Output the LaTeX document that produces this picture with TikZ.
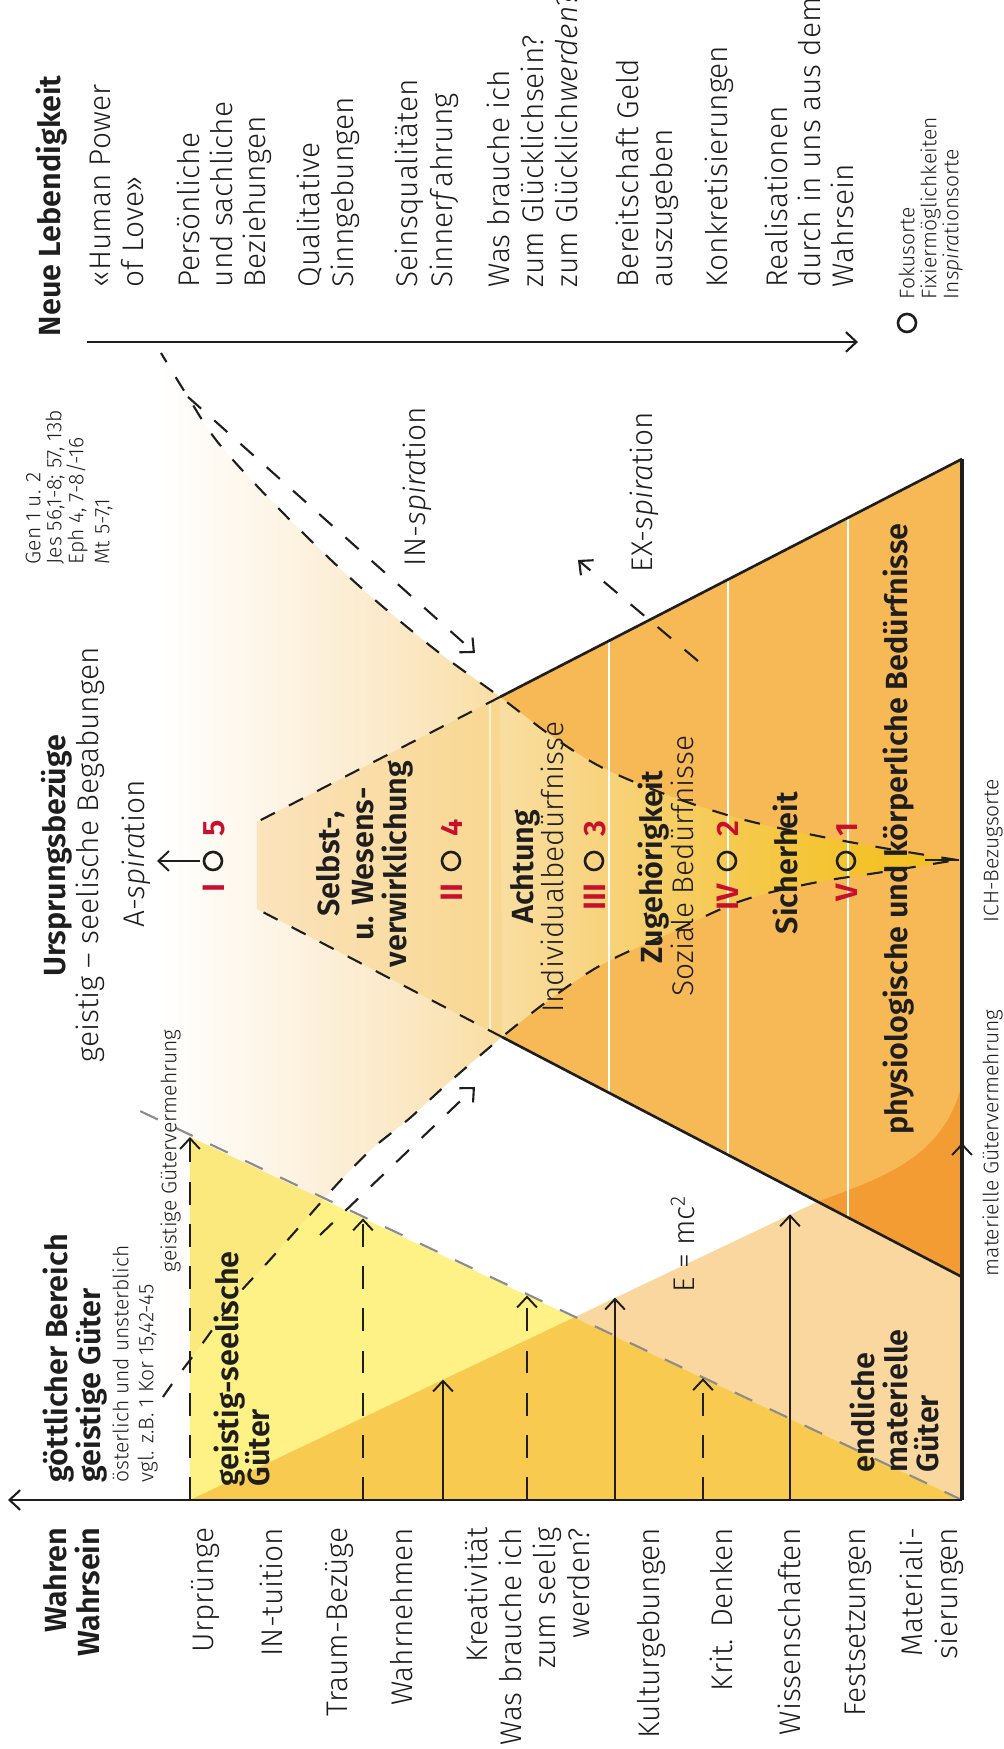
\documentclass[tikz,border=0pt]{standalone}
\usepackage{fontspec}
\setmainfont{Fira Sans}[UprightFont=* Light, ItalicFont=* Light Italic, BoldFont=* SemiBold, BoldItalicFont=* SemiBold Italic]
\usetikzlibrary{arrows.meta}

% colours
\definecolor{ink}{HTML}{1E1E1E}
\definecolor{numred}{HTML}{C8102E}
\definecolor{gelb}{HTML}{FEF185}
\definecolor{ocker}{HTML}{F8CB50}
\definecolor{pfirsich}{HTML}{FAD79E}
\definecolor{pyramid}{HTML}{F7B955}
\definecolor{dunkelor}{HTML}{F39C34}
\definecolor{ovl}{HTML}{FBE97E}
\definecolor{grau}{HTML}{8C8C8C}
\definecolor{trapTop}{HTML}{FBE3BD}
\definecolor{trapBot}{HTML}{F8D78F}
\definecolor{fsA}{HTML}{F3C01C}
\definecolor{fsB}{HTML}{F4C32C}
\definecolor{fsC}{HTML}{F6CA52}
\definecolor{fsD}{HTML}{F8D37C}
\definecolor{fsE}{HTML}{F9DEA2}
\definecolor{fsF}{HTML}{FBE8C6}
\definecolor{fsG}{HTML}{FDF4E4}

\pgfdeclareverticalshading{funnelshade}{100bp}{color(0bp)=(fsA); color(25bp)=(fsA); color(31.5bp)=(fsB); color(39.7bp)=(fsC); color(47.2bp)=(fsD); color(53.6bp)=(fsE); color(59.8bp)=(fsF); color(67.3bp)=(fsG); color(75bp)=(white); color(100bp)=(white)}

% shapes used more than once
\newcommand\peachpath{(249,813) -- (547,186) .. controls (572,120) and (590,60) .. (665,41) -- (249,41) -- cycle}
\newcommand\gelbpath{(249,813) -- (612,813) -- (249,41) -- cycle}
\newcommand\pyrpath{(472,41) -- (712,501) -- (1052,503) -- (1290,41) -- cycle}
\newcommand\funnelleft{plot[smooth, tension=.55] coordinates {(352,840) (369,828) (409,798) (452,767) (487,735) (524,702) (569,662) (601,630) (631,593) (664,557) (712,501) (752,450) (785,400) (816,333) (848,262) (866,190) (877,120) (889,46)}}
\newcommand\funnelright{plot[smooth, tension=.55] coordinates {(889,46) (901,120) (914,190) (930,262) (953,333) (981,400) (1012,450) (1052,503) (1101,570) (1164,645) (1234,718) (1304,783) (1352,815) (1396,842)}}
\newcommand\funnelpath{plot[smooth, tension=.55] coordinates {(352,840) (369,828) (409,798) (452,767) (487,735) (524,702) (569,662) (601,630) (631,593) (664,557) (712,501) (752,450) (785,400) (816,333) (848,262) (866,190) (877,120) (889,46)} -- plot[smooth, tension=.55] coordinates {(889,46) (901,120) (914,190) (930,262) (953,333) (981,400) (1012,450) (1052,503) (1101,570) (1164,645) (1234,718) (1304,783) (1352,815) (1396,842)} -- cycle}

\begin{document}
\begin{tikzpicture}[x=0.01cm, y=0.01cm, >={Straight Barb[length=3pt,width=5.6pt]},
    lbl/.style={font=\fontsize{8.5}{10}\selectfont, text=ink, inner sep=0pt, text height=6.2pt, text depth=1.8pt},
    hdr/.style={lbl, font=\fontsize{8.7}{10}\selectfont\bfseries},
    klein/.style={font=\fontsize{6}{7}\selectfont, text=ink, inner sep=0pt, text height=4.4pt, text depth=1.3pt},
    num/.style={font=\fontsize{8.8}{10}\selectfont\bfseries, text=numred, inner sep=0pt, text height=6.3pt, text depth=0pt},
    focus/.style={circle, draw=ink, line width=0.75pt, minimum size=0.18cm, inner sep=0pt},
    funnel line/.style={draw=ink, line width=0.6pt, dash pattern=on 4.5pt off 5pt},
    guide/.style={ink, line width=0.55pt},
    guide dash/.style={guide, dash pattern=on 6.5pt off 5.5pt}]
\begin{scope}[rotate=90, transform shape]
\useasboundingbox (0,0) rectangle (1749,1003);
\fill[white] (0,0) rectangle (1749,1003);

% Points
\coordinate (bL) at (249,41);
\coordinate (aT) at (249,995);
\coordinate (tL) at (472,41);
\coordinate (tR) at (1290,41);
\coordinate (C) at (1052,503);
\coordinate (D) at (712,501);
\coordinate (tpL) at (840,746);
\coordinate (tpR) at (927,746);
\coordinate (yTop) at (249,813);
\coordinate (yTip) at (612,813);
\coordinate (gEnd) at (646,880);

% Areas
\fill[pfirsich] \peachpath;
\fill[gelb] \gelbpath;
\begin{scope}
  \clip \gelbpath;
  \fill[ocker] \peachpath;
\end{scope}
\fill[pyramid] \pyrpath;
\begin{scope}
  \clip \pyrpath;
  \fill[dunkelor] \peachpath;
\end{scope}
\shade[shading=funnelshade, shading angle=90] \funnelpath;
\begin{scope}
  \clip \gelbpath;
  \fill[ovl] \funnelpath;
\end{scope}
\shade[top color=trapTop, bottom color=trapBot, shading angle=90] (D) -- (C) -- (tpR) -- (tpL) -- cycle;

% Level separators
\draw[white, line width=0.7pt] (531.5,155) -- (1231.3,155);
\draw[white, line width=0.7pt] (594.1,275) -- (1169.5,275);
\draw[white, line width=0.7pt] (656.2,394) -- (1108.2,394);
\draw[white, opacity=0.6, line width=0.6pt] (718.3,513) -- (1046.8,513);

% Outlines
\draw[ink, line width=0.75pt] (tL) -- (D);
\draw[ink, line width=0.75pt] (tR) -- (C);
\draw[ink, line width=0.6pt, dash pattern=on 4.5pt off 4.5pt] (D) -- (tpL);
\draw[ink, line width=0.6pt, dash pattern=on 4.5pt off 4.5pt] (C) -- (tpR);
\draw[funnel line] \funnelleft;
\draw[funnel line] \funnelright;
\draw[grau, line width=0.6pt, dash pattern=on 5.5pt off 5.5pt] (bL) -- (gEnd);
\draw[ink, line width=0.9pt] (bL) -- (tR);

% Axes
\draw[->, guide, line width=0.6pt] (bL) -- (aT);
\draw[->, guide, line width=0.6pt] (1407,916) -- (1407,145);

% Spiration arrows
\draw[->, ink, line width=0.6pt, dash pattern=on 5pt off 5pt] (1352,815) -- (1096,528);
\draw[->, ink, line width=0.6pt, dash pattern=on 5pt off 5pt] (514,683) -- (662,528);
\draw[->, ink, line width=0.6pt, dash pattern=on 5pt off 5pt] (1088,305) -- (1189,425);
\draw[->, guide] (888,803) -- (888,846);
\draw[ink, line width=0.8pt] (889,44) -- (889,78);
\draw[->, guide] (bL) -- (606,41);

% Goods arrows
\draw[->, guide dash] (yTop) -- (yTip);
\draw[->, guide dash] (249,640) -- (530.6,640);
\draw[->, guide dash] (249,476) -- (453.5,476);
\draw[->, guide dash] (249,300) -- (370.8,300);
\draw[->, guide] (249,560) -- (369.5,560);
\draw[->, guide] (249,388) -- (451.4,388);
\draw[->, guide] (249,213) -- (534.7,213);

% Left column
\node[hdr, anchor=east] (wahren) at (222,944) {Wahren};
\node[hdr, anchor=east] (wahrsein) at (222,911) {Wahrsein};
\node[lbl, anchor=east] (urspr) at (222,797) {Urprünge};
\node[lbl, anchor=east] (intu) at (222,728) {IN-tuition};
\node[lbl, anchor=east] (traum) at (222,663) {Traum-Bezüge};
\node[lbl, anchor=east] (wahrn) at (222,598) {Wahrnehmen};
\node[lbl, anchor=east] (kreat) at (222,523) {Kreativität};
\node[lbl, anchor=east] (seelA) at (222,489) {Was brauche ich};
\node[lbl, anchor=east] (seelB) at (222,455) {zum seelig};
\node[lbl, anchor=east] (seelC) at (222,421) {werden?};
\node[lbl, anchor=east] (kultur) at (222,351) {Kulturgebungen};
\node[lbl, anchor=east] (krit) at (222,278) {Krit. Denken};
\node[lbl, anchor=east] (wiss) at (222,210) {Wissenschaften};
\node[lbl, anchor=east] (fest) at (222,145) {Festsetzungen};
\node[lbl, anchor=east] (matA) at (222,88) {Materiali-};
\node[lbl, anchor=east] (matB) at (222,53) {sierungen};

% Goods texts
\node[hdr, anchor=west] (goettl) at (266,943) {göttlicher Bereich};
\node[hdr, anchor=west] (geistg) at (266,910) {geistige Güter};
\node[klein, anchor=west] (oesterl) at (266,880) {österlich und unsterblich};
\node[klein, anchor=west] (kor) at (266,855) {vgl. z.B. 1 Kor 15,42-45};
\node[klein, anchor=west] (gverm) at (476,832) {geistige Gütervermehrung};
\node[hdr, anchor=west] (gsA) at (262,772) {geistig-seelische};
\node[hdr, anchor=west] (gsB) at (262,741) {Güter};
\node[lbl, anchor=west] (emc) at (456,316) {E = mc\textsuperscript{2}};
\node[hdr, anchor=west] (endA) at (276,136) {endliche};
\node[hdr, anchor=west] (endB) at (276,103) {materielle};
\node[hdr, anchor=west] (endC) at (276,72) {Güter};
\node[klein, anchor=west] (mverm) at (472,10) {materielle Gütervermehrung};
\node[klein, anchor=west] (ichbez) at (826,10) {ICH-Bezugsorte};

% Centre
\node[hdr] (ursprb) at (893,945) {Ursprungsbezüge};
\node[lbl] (begab) at (894,912) {geistig – seelische Begabungen};
\node[lbl] (aspir) at (895,866) {A-\textit{spira}tion};
\node[focus] (fo5) at (888,790) {};
\node[num, anchor=east] (r5) at (866,790) {I};
\node[num, anchor=west] (n5) at (912,790) {5};
\node[focus] (fo4) at (888,552) {};
\node[num, anchor=east] (r4) at (866,552) {II};
\node[num, anchor=west] (n4) at (912,552) {4};
\node[focus] (fo3) at (888,409) {};
\node[num, anchor=east] (r3) at (866,409) {III};
\node[num, anchor=west] (n3) at (912,409) {3};
\node[focus] (fo2) at (888,276) {};
\node[num, anchor=east] (r2) at (866,276) {IV};
\node[num, anchor=west] (n2) at (912,276) {2};
\node[focus] (fo1) at (888,157) {};
\node[num, anchor=east] (r1) at (866,157) {V};
\node[num, anchor=west] (n1) at (912,157) {1};
\node[hdr] (selbA) at (885,671) {Selbst-,};
\node[hdr] (selbB) at (885,637) {u. Wesens-};
\node[hdr] (selbC) at (885,604) {verwirklichung};
\node[hdr] (acht) at (882,477) {Achtung};
\node[lbl] (indiv) at (882,447) {Individualbedürfnisse};
\node[hdr] (zugeh) at (882,348) {Zugehörigkeit};
\node[lbl] (sozial) at (883,317) {Soziale Bedürfnisse};
\node[hdr] (sicher) at (886,213) {Sicherheit};
\node[hdr] (physio) at (920,103) {physiologische und körperliche Bedürfnisse};

% Right side
\node[klein, anchor=west] (genA) at (1184,968) {Gen 1 u. 2};
\node[klein, anchor=west] (genB) at (1184,947) {Jes 56,1-8; 57, 13b};
\node[klein, anchor=west] (genC) at (1184,925) {Eph 4, 7-8/-16};
\node[klein, anchor=west] (genD) at (1184,899) {Mt 5-7,1};
\node[lbl, anchor=west] (inspir) at (1182,585) {IN-\textit{spira}tion};
\node[lbl, anchor=west] (exspir) at (1176,358) {EX-\textit{spira}tion};
\node[hdr, anchor=west] (neue) at (1412,950) {Neue Lebendigkeit};
\node[lbl, anchor=west] (rA) at (1461,900) {«Human Power};
\node[lbl, anchor=west] (rB) at (1461,867) {of Love»};
\node[lbl, anchor=west] (rC) at (1461,811) {Persönliche};
\node[lbl, anchor=west] (rD) at (1461,778) {und sachliche};
\node[lbl, anchor=west] (rE) at (1461,745) {Beziehungen};
\node[lbl, anchor=west] (rF) at (1461,691) {Qualitative};
\node[lbl, anchor=west] (rG) at (1461,657) {Sinngebungen};
\node[lbl, anchor=west] (rH) at (1461,593) {Seinsqualitäten};
\node[lbl, anchor=west] (rI) at (1461,558) {Sinner\textit{f}ahrung};
\node[lbl, anchor=west] (rJ) at (1461,501) {Was brauche ich};
\node[lbl, anchor=west] (rK) at (1461,467) {zum Glücklichsein?};
\node[lbl, anchor=west] (rL) at (1461,433) {zum Glücklich\textit{werden}?};
\node[lbl, anchor=west] (rM) at (1461,372) {Bereitschaft Geld};
\node[lbl, anchor=west] (rN) at (1461,338) {auszugeben};
\node[lbl, anchor=west] (rO) at (1461,283) {Konkretisierungen};
\node[lbl, anchor=west] (rP) at (1461,223) {Realisationen};
\node[lbl, anchor=west] (rQ) at (1461,190) {durch in uns aus dem};
\node[lbl, anchor=west] (rR) at (1461,157) {Wahrsein};

% Legend
\node[focus] (legkreis) at (1426,96) {};
\node[klein, anchor=west] (legA) at (1449,94) {Fokusorte};
\node[klein, anchor=west] (legB) at (1449,72) {Fixiermöglichkeiten};
\node[klein, anchor=west] (legC) at (1449,50) {In\textit{spira}tionsorte};
\end{scope}
\end{tikzpicture}
\end{document}
